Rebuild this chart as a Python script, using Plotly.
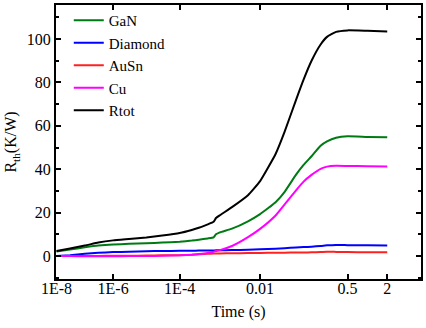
import numpy as np
import plotly.graph_objects as go

# time (s)
time_s = [1e-8, 3e-8, 1e-7, 3e-7, 1e-6, 3e-6, 1e-5, 3e-5, 1e-4, 2e-4, 3e-4, 5e-4,
          7e-4, 8e-4, 1e-3, 2e-3, 5e-3, 1e-2, 2e-2, 3e-2, 5e-2, 7e-2, 0.1, 0.15,
          0.2, 0.3, 0.5, 1.0, 2.0]

gan = [2.1, 3.0, 4.0, 4.8, 5.3, 5.6, 5.9, 6.2, 6.6, 7.1, 7.5, 8.1,
       8.6, 10.0, 10.9, 12.6, 16.0, 19.3, 24.8, 29.6, 37.5, 42.0, 46.0, 50.8,
       52.8, 54.5, 55.2, 54.9, 54.7]
diamond = [0.0, 0.4, 1.0, 1.5, 1.8, 2.0, 2.2, 2.3, 2.4, 2.45, 2.5, 2.5,
           2.55, 2.6, 2.6, 2.75, 2.9, 3.1, 3.4, 3.6, 3.9, 4.1, 4.3, 4.6,
           4.9, 5.1, 5.0, 4.9, 4.8]
ausn = [0.0, 0.0, 0.0, 0.05, 0.1, 0.15, 0.2, 0.3, 0.4, 0.6, 0.8, 1.0,
        1.1, 1.15, 1.2, 1.3, 1.35, 1.4, 1.5, 1.55, 1.6, 1.65, 1.7, 1.85,
        2.0, 1.9, 1.8, 1.75, 1.7]
cu = [0.0, -0.05, -0.1, -0.1, -0.1, -0.05, 0.0, 0.1, 0.3, 0.6, 0.9, 1.4,
      2.0, 2.3, 2.7, 4.6, 8.7, 12.5, 18.7, 23.8, 30.3, 34.3, 37.4, 40.2,
      41.2, 41.6, 41.5, 41.4, 41.3]
rtot = [2.3, 3.5, 4.8, 6.2, 7.2, 7.8, 8.5, 9.4, 10.6, 12.0, 13.0, 14.6,
        15.8, 17.5, 18.8, 22.5, 28.0, 34.5, 47.0, 57.3, 72.0, 81.3, 90.0, 97.5,
        101.0, 103.3, 104.0, 103.8, 103.5]

series_names = ["GaN", "Diamond", "AuSn", "Cu", "Rtot"]
series_colors = ["#007a12", "#0000ff", "#ff2020", "#ff00ff", "#000000"]

tick_values = [1e-8, 1e-6, 1e-4, 0.01, 0.5, 2]
tick_labels = ["1E-8", "1E-6", "1E-4", "0.01", "0.5", "2"]

# Non-uniform time scale of the original axis: positions of the labelled ticks
tick_axis_pos = [0, 57, 124, 205, 293, 333]


def warp(t):
    return np.interp(np.log10(np.asarray(t, dtype=float)),
                     np.log10(tick_values), tick_axis_pos)


xw = warp(time_s)
fig = go.Figure()
for name, color, vals in zip(series_names, series_colors, [gan, diamond, ausn, cu, rtot]):
    fig.add_trace(go.Scatter(x=xw, y=vals, mode="lines", name=name,
                             line=dict(color=color, width=2, shape="spline", smoothing=0.4)))

FAM = "'Liberation Serif', 'Times New Roman', Times, 'DejaVu Serif', serif"
font = dict(family=FAM, size=16, color="black")
fig.update_layout(
    width=426, height=328,
    margin=dict(l=56, r=3, t=5, b=49),
    paper_bgcolor="white", plot_bgcolor="white",
    font=font,
    showlegend=True,
    legend=dict(x=0.035, y=1.004, xanchor="left", yanchor="top",
                bgcolor="rgba(0,0,0,0)", font=dict(family=FAM, size=15, color="black"),
                tracegroupgap=0),
    xaxis=dict(range=[-0.5, 367], tickvals=warp(tick_values), ticktext=tick_labels,
               ticks="inside", ticklen=5, tickwidth=1.5, tickcolor="black",
               tickfont=dict(family=FAM, size=16, color="black"),
               ticklabelstandoff=-6,
               showline=True, linecolor="black", linewidth=2, mirror="allticks",
               showgrid=False, zeroline=False,
               title=dict(text="Time (s)", standoff=10,
                          font=dict(family=FAM, size=16, color="black"))),
    yaxis=dict(range=[-10.6, 115.7], tickvals=[0, 20, 40, 60, 80, 100],
               ticks="inside", ticklen=5, tickwidth=1.5, tickcolor="black",
               tickfont=dict(family=FAM, size=16, color="black"),
               minor=dict(tickvals=[-10, 10, 30, 50, 70, 90, 110], ticks="inside",
                          ticklen=3, tickwidth=1.5, tickcolor="black"),
               showline=True, linecolor="black", linewidth=2, mirror="allticks",
               showgrid=False, zeroline=False,
               title=dict(text="R<sub>th</sub>(K/W)", standoff=6,
                          font=dict(family=FAM, size=16, color="black"))),
)

fig.write_html("out.html")
